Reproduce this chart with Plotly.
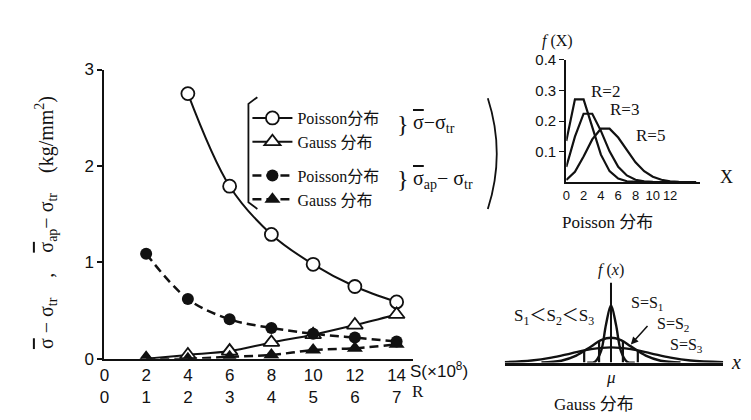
import plotly.graph_objects as go

W, H = 751, 420

# ---------------- data: main chart ----------------
s_poisson_sig = [4, 6, 8, 10, 12, 14]
v_poisson_sig = [2.75, 1.79, 1.29, 0.98, 0.75, 0.59]
s_gauss_sig = [2, 4, 6, 8, 10, 12, 14]
v_gauss_sig = [0.0, 0.04, 0.08, 0.17, 0.25, 0.35, 0.46]
s_poisson_ap = [2, 4, 6, 8, 10, 12, 14]
v_poisson_ap = [1.09, 0.62, 0.41, 0.32, 0.26, 0.22, 0.18]
s_gauss_ap = [2, 4, 6, 8, 10, 12, 14]
v_gauss_ap = [0.0, 0.0, 0.02, 0.04, 0.09, 0.11, 0.15]

s_ticks = [0, 2, 4, 6, 8, 10, 12, 14]
r_ticks = [0, 1, 2, 3, 4, 5, 6, 7]
y_ticks = [0, 1, 2, 3]

# ---------------- data: Poisson inset ----------------
pois_x = list(range(0, 16))
pois_r2 = [0.135, 0.271, 0.271, 0.180, 0.090, 0.036, 0.012, 0.003, 0.001, 0, 0, 0, 0, 0, 0, 0]
pois_r3 = [0.050, 0.149, 0.224, 0.224, 0.168, 0.101, 0.050, 0.022, 0.008, 0.003, 0.001, 0, 0, 0, 0, 0]
pois_r5 = [0.007, 0.034, 0.084, 0.140, 0.175, 0.175, 0.146, 0.104, 0.065, 0.036, 0.018, 0.008, 0.003, 0.001, 0, 0]
pois_xticks = [0, 2, 4, 6, 8, 10, 12]
pois_yticks = [0.1, 0.2, 0.3, 0.4]

# ---------------- data: Gauss inset ----------------
g1_x = [-24, -16, -10, -5, 0, 5, 10, 16, 24]
g1_y = [0, 1, 12, 40, 60, 40, 12, 1, 0]
g2_x = [-70, -50, -35, -20, -10, 0, 10, 20, 35, 50, 70]
g2_y = [0.2, 2, 7.3, 17, 23.5, 26, 23.5, 17, 7.3, 2, 0.2]
g3_x = [-107, -80, -60, -40, -20, 0, 20, 40, 60, 80, 113]
g3_y = [0.45, 2.2, 5.2, 9.7, 14.1, 16, 14.1, 9.7, 5.2, 2.2, 0.4]
stick_x = [-27, -12, 12, 27]
stick_y = [11.7, 22.6, 22.6, 11.7]

BLACK = "#111111"
SANS = "Liberation Sans, Arial, sans-serif"
SERIF = "Liberation Serif, Noto Sans CJK SC, serif"
NARROW = "Liberation Sans Narrow, Liberation Sans, sans-serif"
SIG = '<span style="text-decoration:overline">σ</span>'


def px(x, y):
    return x / W, 1 - y / H


fig = go.Figure()

line_w = 2
fig.add_trace(go.Scatter(
    x=s_poisson_sig, y=v_poisson_sig, name="Poisson分布", legendgroup="g1",
    mode="lines+markers", line=dict(color=BLACK, width=line_w, shape="spline"),
    marker=dict(symbol="circle", size=13, color="white", line=dict(color=BLACK, width=1.8))))
fig.add_trace(go.Scatter(
    x=s_gauss_sig, y=v_gauss_sig, name="Gauss 分布", legendgroup="g1",
    mode="lines+markers", line=dict(color=BLACK, width=line_w, shape="spline"),
    marker=dict(symbol="triangle-up", size=14, color="white", line=dict(color=BLACK, width=1.8))))
fig.add_trace(go.Scatter(
    x=s_poisson_ap, y=v_poisson_ap, name="Poisson分布", legendgroup="g2",
    mode="lines+markers", line=dict(color=BLACK, width=line_w + 0.5, shape="spline", dash="9px,5px"),
    marker=dict(symbol="circle", size=12, color=BLACK)))
fig.add_trace(go.Scatter(
    x=s_gauss_ap, y=v_gauss_ap, name="Gauss 分布", legendgroup="g2",
    mode="lines+markers", line=dict(color=BLACK, width=line_w + 0.5, shape="spline", dash="9px,5px"),
    marker=dict(symbol="triangle-up", size=14, color=BLACK)))

# Poisson inset
for yy in (pois_r2, pois_r3, pois_r5):
    fig.add_trace(go.Scatter(x=pois_x, y=yy, xaxis="x2", yaxis="y2", mode="lines",
                             line=dict(color=BLACK, width=2.2), showlegend=False, hoverinfo="skip"))

# Gauss inset
for gx, gy in ((g1_x, g1_y), (g2_x, g2_y), (g3_x, g3_y)):
    fig.add_trace(go.Scatter(x=gx, y=gy, xaxis="x3", yaxis="y3", mode="lines",
                             line=dict(color=BLACK, width=2.4, shape="spline"),
                             showlegend=False, hoverinfo="skip"))
sx, sy = [], []
for a, b in zip(stick_x, stick_y):
    sx += [a, a, None]
    sy += [0, b, None]
fig.add_trace(go.Scatter(x=sx, y=sy, xaxis="x3", yaxis="y3", mode="lines",
                         line=dict(color=BLACK, width=2.2), showlegend=False, hoverinfo="skip"))

fig.update_layout(
    width=W, height=H, margin=dict(l=0, r=0, t=0, b=0),
    paper_bgcolor="white", plot_bgcolor="white",
    showlegend=True,
    legend=dict(x=px(236, 0)[0], y=px(0, 88)[1], xanchor="left", yanchor="top",
                traceorder="grouped", tracegroupgap=10, bgcolor="rgba(0,0,0,0)",
                font=dict(family=SERIF, size=16, color=BLACK), itemwidth=40),
    xaxis=dict(domain=[92 / W, 403 / W], range=[0, 14.8], showline=True, linecolor=BLACK,
               linewidth=2.2, showgrid=False, zeroline=False, ticks="",
               tickvals=s_ticks,
               ticktext=[f"{s}<br>{r}" for s, r in zip(s_ticks, r_ticks)],
               tickfont=dict(family=SANS, size=17, color=BLACK), anchor="y"),
    yaxis=dict(domain=[1 - 358 / H, 1 - 55 / H], range=[0, 3], showline=True, linecolor=BLACK,
               linewidth=2.2, showgrid=False, zeroline=False, ticks="outside", ticklen=5,
               tickwidth=1.5, tickcolor=BLACK, tickvals=y_ticks,
               tickfont=dict(family=SANS, size=17, color=BLACK), anchor="x"),
    xaxis2=dict(domain=[557 / W, 692 / W], range=[0, 15.5], anchor="y2", showline=True,
                linecolor=BLACK, linewidth=2.2, showgrid=False, zeroline=False, ticks="",
                tickvals=pois_xticks, tickangle=0,
                tickfont=dict(family=NARROW, size=13, color=BLACK)),
    yaxis2=dict(domain=[1 - 173 / H, 1 - 45 / H], range=[0, 0.4], anchor="x2", showline=True,
                linecolor=BLACK, linewidth=2.2, showgrid=False, zeroline=False, ticks="outside",
                ticklen=5, tickcolor=BLACK, tickvals=pois_yticks,
                tickfont=dict(family=SANS, size=15, color=BLACK)),
    xaxis3=dict(domain=[495 / W, 715 / W], range=[-107, 113], anchor="y3", showline=True,
                linecolor=BLACK, linewidth=2.5, showgrid=False, zeroline=False,
                showticklabels=False, ticks=""),
    yaxis3=dict(domain=[1 - 362 / H, 1 - 278 / H], range=[0, 84], anchor="x3", visible=False),
)

# mu axis line in Gauss inset
fig.add_shape(type="line", xref="x3", yref="y3", x0=0, x1=0, y0=0, y1=84,
              line=dict(color=BLACK, width=2))

ann = []


def add_text(x, y, text, size=15, family=SERIF, angle=0, xanchor="center", **kw):
    X, Y = px(x, y)
    ann.append(dict(x=X, y=Y, xref="paper", yref="paper", text=text, showarrow=False,
                    xanchor=xanchor, yanchor="middle", textangle=angle,
                    font=dict(family=family, size=size, color=BLACK), **kw))


# main axis labels
add_text(398, 370, "S(×10<sup>8</sup>)", size=17, family=SANS, xanchor="left")
add_text(400, 392, "R", size=17, family=SERIF, xanchor="left")
add_text(34, 215,
         f"{SIG} − σ<sub>tr</sub>    ,    {SIG}<sub>ap</sub>− σ<sub>tr</sub>    (kg/mm<sup>2</sup>)",
         size=20, family=SERIF, angle=-90)

# legend braces & labels
add_text(393, 112, "}", size=24, family=SERIF)
add_text(393, 170, "}", size=24, family=SERIF)
add_text(401, 112, f"{SIG}−σ<sub>tr</sub>", size=20, family=SERIF, xanchor="left")
add_text(401, 170, f"{SIG}<sub>ap</sub>− σ<sub>tr</sub>", size=20, family=SERIF, xanchor="left")

# Poisson inset texts
add_text(548, 25, "<i>f</i> (X)", size=16, family=SERIF)
add_text(718, 168, "X", size=18, family=SERIF)
add_text(596, 78, "R=2", size=17, family=SERIF)
add_text(616, 97, "R=3", size=17, family=SERIF)
add_text(642, 124, "R=5", size=17, family=SERIF)
add_text(598, 215, "Poisson 分布", size=17, family=SERIF)

# Gauss inset texts
add_text(602, 265, "<i>f</i> (<i>x</i>)", size=16, family=SERIF)
add_text(728, 361, "<i>x</i>", size=20, family=SERIF)
add_text(602, 378, "<i>μ</i>", size=17, family=SERIF)
add_text(585, 406, "Gauss 分布", size=17, family=SERIF)
add_text(545, 314, "S<sub>1</sub>＜S<sub>2</sub>＜S<sub>3</sub>", size=17, family=SERIF)
add_text(638, 300, "S=S<sub>1</sub>", size=16, family=SERIF)
add_text(664, 322, "S=S<sub>2</sub>", size=16, family=SERIF)
add_text(678, 344, "S=S<sub>3</sub>", size=16, family=SERIF)

# arrow from S=S2 label to curve
ann.append(dict(x=20, y=19, xref="x3", yref="y3", ax=18, ay=-20, text="",
                showarrow=True, arrowhead=2, arrowsize=1, arrowwidth=1.5, arrowcolor=BLACK))

fig.update_layout(annotations=ann)


def ppath(points, curve=False):
    pts = [px(x, y) for x, y in points]
    if curve:
        (x0, y0), (cx, cy), (x1, y1) = pts
        return f"M {x0} {y0} Q {cx} {cy} {x1} {y1}"
    return "M " + " L ".join(f"{x} {y}" for x, y in pts)


# left bracket of the legend
fig.add_shape(type="path", xref="paper", yref="paper",
              path=ppath([(246, 84), (237, 91), (237, 194), (246, 201)]),
              line=dict(color=BLACK, width=1.8))
# right bracket
fig.add_shape(type="path", xref="paper", yref="paper",
              path=ppath([(478, 85), (496, 143), (478, 201)], curve=True),
              line=dict(color=BLACK, width=1.8))

fig.write_html("out.html")
